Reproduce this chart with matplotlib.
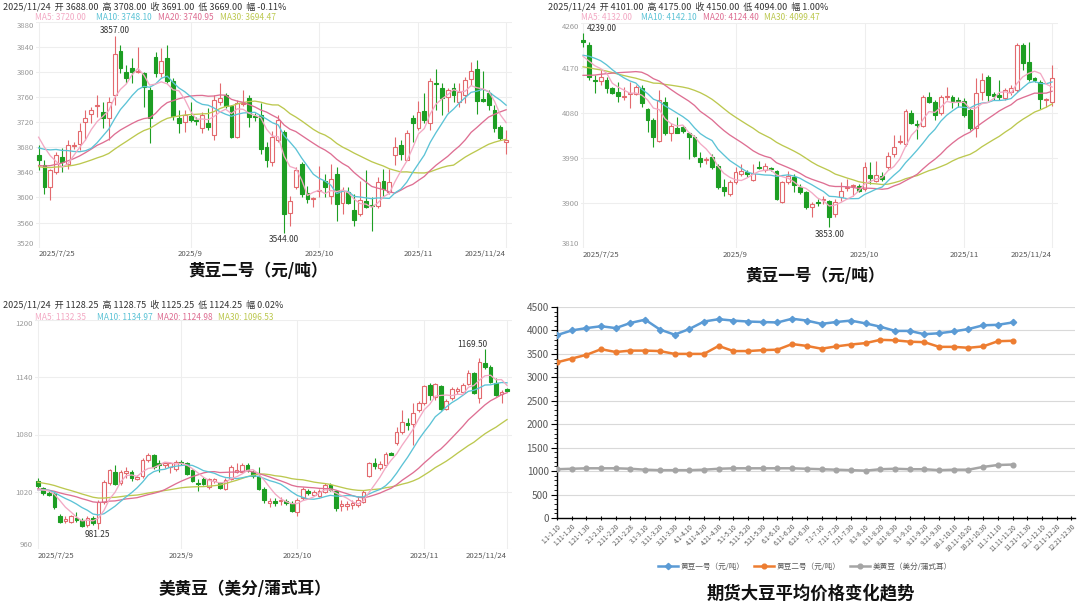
import numpy as np
import pandas as pd
import matplotlib
matplotlib.use('Agg')
import matplotlib.pyplot as plt
from matplotlib.lines import Line2D

plt.rcParams['font.family'] = ['Noto Sans CJK SC', 'DejaVu Sans']

# ---------------- data: 黄豆二号 ----------------
p1_open = [3667,3651,3616,3640,3664,3654,3682,3685,3720,3733,3745,3736,3726,3763,3834,3800,3806,3800,3798,3771,
           3823,3799,3822,3786,3727,3720,3729,3724,3711,3719,3699,3752,3763,3745,3696,3749,3759,3730,3731,3681,
           3656,3691,3704,3576,3616,3654,3607,3597,3610,3627,3603,3638,3592,3608,3580,3573,3594,3588,3587,3627,
           3608,3667,3683,3660,3727,3711,3738,3718,3783,3775,3760,3774,3752,3763,3788,3804,3757,3766,3740,3713,3688]
p1_high = [3683,3659,3645,3672,3679,3691,3688,3718,3739,3744,3763,3752,3760,3857,3843,3811,3822,3840,3800,3776,
           3832,3838,3843,3790,3739,3739,3752,3728,3736,3742,3763,3782,3766,3747,3755,3771,3763,3735,3750,3688,
           3706,3731,3707,3603,3648,3656,3619,3600,3650,3638,3654,3648,3616,3616,3606,3627,3643,3600,3632,3646,
           3646,3696,3691,3707,3731,3754,3766,3790,3804,3782,3774,3783,3782,3792,3816,3819,3802,3772,3747,3715,3708]
p1_low = [3643,3606,3596,3638,3640,3646,3678,3675,3691,3718,3728,3710,3691,3747,3798,3782,3782,3798,3744,3686,
          3792,3792,3782,3723,3702,3704,3720,3716,3703,3707,3692,3748,3742,3695,3695,3746,3712,3722,3670,3649,
          3650,3688,3544,3555,3614,3600,3592,3585,3600,3600,3590,3563,3574,3590,3555,3571,3584,3546,3584,3600,
          3606,3651,3659,3659,3688,3707,3718,3707,3739,3731,3736,3752,3744,3750,3779,3733,3752,3739,3704,3691,3669]
p1_close = [3660,3617,3643,3667,3656,3684,3684,3706,3727,3739,3748,3726,3752,3829,3806,3791,3800,3802,3776,3726,
            3799,3818,3786,3729,3718,3731,3723,3722,3731,3713,3755,3759,3745,3696,3751,3751,3728,3728,3678,3659,
            3696,3723,3574,3595,3643,3606,3598,3599,3612,3616,3630,3590,3611,3591,3564,3596,3585,3586,3624,3614,
            3624,3680,3670,3702,3718,3736,3723,3786,3781,3758,3771,3763,3768,3787,3802,3754,3754,3747,3710,3694,3691]
# closes before 2025/7/25 (estimated from where the MA lines start)
p1_prior = [3652,3648,3640,3644,3650,3646,3642,3638,3645,3645,
            3635,3630,3625,3618,3612,3615,3620,3622,3625,3628,
            3640,3652,3660,3672,3686,3698,3710,3712,3700]

# ---------------- data: 黄豆一号 ----------------
p2_open = [4226,4215,4146,4144,4145,4129,4122,4112,4118,4117,4129,4087,4065,4025,4102,4039,4049,4052,4039,4032,
           3991,3986,3992,3975,3932,3919,3942,3959,3962,3947,3973,3967,3970,3964,3902,3942,3953,3932,3922,3892,
           3903,3906,3905,3879,3912,3931,3934,3935,3929,3957,3945,3955,3972,3999,4023,4019,4080,4058,4053,4112,
           4102,4080,4111,4111,4106,4104,4085,4049,4122,4151,4117,4115,4109,4122,4125,4215,4182,4149,4142,4106,4101]
p2_high = [4239,4222,4155,4165,4152,4132,4142,4132,4142,4135,4135,4089,4069,4125,4112,4059,4072,4056,4042,4035,
           4002,3992,3999,3979,3949,3947,3972,3979,3967,3979,3985,3980,3973,3967,3945,3965,3959,3939,3925,3902,
           3909,3915,3907,3909,3942,3949,3939,3939,3982,3982,3985,3962,4002,4035,4035,4087,4085,4065,4115,4122,
           4105,4115,4132,4115,4112,4109,4089,4149,4159,4155,4122,4145,4129,4135,4220,4219,4222,4152,4145,4109,4175]
p2_low = [4212,4145,4119,4135,4119,4117,4102,4105,4089,4115,4092,4042,4012,4022,4035,4025,4039,4039,3989,3992,
          3972,3979,3969,3929,3915,3915,3939,3955,3952,3945,3968,3962,3965,3907,3900,3939,3922,3919,3889,3872,
          3895,3899,3853,3872,3905,3925,3915,3922,3925,3939,3942,3945,3969,3992,4019,4015,4057,4029,4052,4099,
          4065,4075,4105,4089,4092,4072,4045,4032,4105,4102,4105,4105,4105,4115,4122,4165,4144,4142,4087,4091,4094]
p2_close = [4222,4152,4144,4151,4129,4120,4113,4114,4120,4132,4099,4065,4032,4105,4039,4053,4040,4043,4033,3995,
            3982,3988,3972,3932,3925,3942,3962,3965,3959,3960,3971,3974,3968,3909,3942,3955,3937,3922,3892,3899,
            3901,3908,3872,3902,3925,3933,3936,3925,3972,3951,3957,3949,3995,4013,4025,4084,4060,4056,4112,4102,
            4075,4112,4113,4102,4104,4075,4049,4119,4145,4115,4114,4112,4125,4129,4215,4179,4147,4146,4107,4108,4150]
p2_prior = [4210,4215,4205,4200,4212,4208,4198,4202,4206,4204,
            4150,4135,4120,4105,4098,4095,4100,4108,4115,4124,
            4170,4185,4200,4210,4220,4200,4190,4180,4173]

# ---------------- data: 美黄豆 ----------------
p3_open = [1031,1024,1019,1018,995,989,988,992,990,985,992,987,1009,1029,1041,1029,1040,1041,1033,1036,
           1053,1058,1050,1048,1046,1044,1051,1050,1043,1029,1033,1025,1031,1029,1023,1033,1041,1041,1048,1041,
           1036,1023,1008,1010,1010,1010,1008,999,1013,1021,1017,1016,1020,1027,1021,1005,1005,1006,1006,1009,
           1036,1050,1045,1048,1061,1071,1083,1092,1091,1106,1113,1132,1119,1131,1107,1118,1126,1125,1133,1144,
           1118,1155,1151,1134,1123,1128.25]
p3_high = [1034,1025,1022,1020,997,994,996,999,992,994,995,1011,1032,1044,1048,1043,1046,1043,1037,1055,
           1061,1060,1053,1051,1051,1053,1053,1051,1044,1033,1035,1034,1034,1030,1034,1048,1050,1050,1050,1043,
           1046,1025,1013,1013,1014,1012,1010,1013,1025,1023,1022,1023,1029,1029,1022,1011,1010,1011,1015,1022,
           1051,1055,1052,1062,1062,1088,1106,1097,1113,1115,1132,1134,1134,1132,1117,1130,1130,1134,1148,1146,
           1160,1169.5,1153,1139,1127,1128.75]
p3_low = [1024,1017,1015,1002,987,987,987,988,983,983,985,981.25,1007,1027,1027,1027,1034,1031,1032,1034,
          1051,1044,1041,1045,1040,1042,1048,1037,1030,1021,1027,1023,1029,1023,1022,1032,1040,1040,1041,1034,
          1022,1008,1004,1005,1006,1006,999,994,1011,1017,1015,1014,1019,1021,1000,1000,1001,1002,1004,1008,
          1035,1044,1043,1046,1058,1069,1081,1085,1069,1104,1111,1116,1116,1106,1106,1116,1123,1123,1132,1122,
          1113,1149,1134,1120,1113,1124.25]
p3_close = [1026,1019,1017,1004,988,991,994,990,984,992,987,1009,1030,1043,1028,1041,1042,1034,1035,1053,
            1058,1046,1048,1050,1050,1051,1050,1039,1031,1028,1028,1033,1033,1024,1032,1046,1043,1048,1043,1036,
            1023,1011,1010,1008,1011,1008,1000,1011,1023,1019,1020,1021,1027,1022,1003,1007,1007,1008,1011,1020,
            1050,1047,1049,1060,1059,1083,1093,1090,1103,1113,1131,1121,1133,1107,1115,1128,1128,1132,1145,1124,
            1156,1151,1135,1121,1125,1125.25]
p3_prior = [1050,1048,1046,1045,1044,1043,1042,1041,1041,1040,
            1035,1030,1026,1022,1020,1018,1020,1022,1024,1023,
            1020,1022,1024,1023,1021,1020,1022,1021,1021]

# ---------------- data: 期货大豆平均价格 ----------------
periods = ['1.1-1.10','1.11-1.20','1.21-1.30','2.1-2.10','2.11-2.20','2.21-2.28','3.1-3.10','3.11-3.20',
           '3.21-3.30','4.1-4.10','4.11-4.20','4.21-4.30','5.1-5.10','5.11-5.20','5.21-5.30','6.1-6.10',
           '6.11-6.20','6.21-6.30','7.1-7.10','7.11-7.20','7.21-7.30','8.1-8.10','8.11-8.20','8.21-8.30',
           '9.1-9.10','9.11-9.20','9.21-9.30','10.1-10.10','10.11-10.20','10.21-10.30','11.1-11.10',
           '11.11-11.20','11.21-11.30','12.1-12.10','12.11-12.20','12.21-12.30']
soy1 = [3900,4000,4050,4090,4050,4160,4230,4020,3910,4030,4190,4240,4210,4190,4180,4170,
        4250,4210,4140,4180,4210,4150,4080,3990,3990,3920,3940,3980,4030,4110,4120,4170]
soy2 = [3320,3400,3480,3600,3540,3570,3570,3560,3500,3500,3500,3670,3560,3560,3580,3590,
        3710,3670,3610,3660,3700,3730,3800,3790,3760,3750,3650,3650,3630,3660,3770,3780]
soyus = [1040,1050,1060,1060,1060,1050,1030,1020,1020,1020,1030,1050,1060,1060,1060,1060,
         1060,1050,1040,1030,1020,1010,1040,1050,1040,1040,1020,1030,1030,1090,1130,1140]

headers = [
    '2025/11/24  开 3688.00  高 3708.00  收 3691.00  低 3669.00  幅 -0.11%',
    '2025/11/24  开 4101.00  高 4175.00  收 4150.00  低 4094.00  幅 1.00%',
    '2025/11/24  开 1128.25  高 1128.75  收 1125.25  低 1124.25  幅 0.02%',
]
ma_texts = [
    ['MA5: 3720.00', 'MA10: 3748.10', 'MA20: 3740.95', 'MA30: 3694.47'],
    ['MA5: 4132.00', 'MA10: 4142.10', 'MA20: 4124.40', 'MA30: 4099.47'],
    ['MA5: 1132.35', 'MA10: 1134.97', 'MA20: 1124.98', 'MA30: 1096.53'],
]
titles = ['黄豆二号（元/吨）', '黄豆一号（元/吨）', '美黄豆（美分/蒲式耳）', '期货大豆平均价格变化趋势']

# trading calendars
cn_days = [d for d in pd.bdate_range('2025-07-25', '2025-11-24')
           if not (pd.Timestamp('2025-10-01') <= d <= pd.Timestamp('2025-10-08'))]
us_days = [d for d in pd.bdate_range('2025-07-25', '2025-11-24') if d != pd.Timestamp('2025-09-01')]

# ---------------- styling ----------------
W, H = 1080, 608
fig = plt.figure(figsize=(W / 100, H / 100), dpi=100)
fig.patch.set_facecolor('white')

def rect(l, t, r, b):
    return [l / W, 1 - b / H, (r - l) / W, (b - t) / H]

UP = '#e36a6e'
DN = '#1d9e23'
MA_COL = {5: '#f3a9c4', 10: '#5cc3d6', 20: '#de6f93', 30: '#bcc84f'}
GRID = '#eeeeee'

def candle_panel(box, days, o, h, l, c, prior, yticks, xl, annot):
    ax = fig.add_axes(rect(*box))
    o, h, l, c = map(lambda a: np.array(a, float), (o, h, l, c))
    n = len(c)
    x = np.arange(n)
    ax.set_xlim(xl)
    ax.set_ylim(yticks[0], yticks[-1])
    for s in ax.spines.values():
        s.set_visible(False)
    for yv in yticks:
        ax.axhline(yv, color=GRID, lw=0.8, zorder=0)
    months = [d.month for d in days]
    xt = [0] + [i for i in range(1, n) if months[i] != months[i - 1] and months[i] >= 9] + [n - 1]
    xlab = ['%d/%d/%d' % (days[0].year, days[0].month, days[0].day)] + \
           ['%d/%d' % (days[i].year, days[i].month) for i in xt[1:-1]] + \
           ['%d/%d/%d' % (days[-1].year, days[-1].month, days[-1].day)]
    for xv in xt:
        ax.axvline(xv, color=GRID, lw=0.8, zorder=0)
    ax.set_xticks(xt)
    ax.set_xticklabels(xlab, fontsize=5.6, color='#555555')
    labs = ax.get_xticklabels()
    labs[0].set_ha('left')
    labs[-1].set_ha('right')
    ax.set_yticks(yticks)
    ax.set_yticklabels([str(v) for v in yticks], fontsize=5.6, color='#9a9a9a')
    ylabs = ax.get_yticklabels()
    ylabs[-1].set_va('top')
    ylabs[0].set_va('bottom')
    ax.tick_params(length=0, pad=1.5)
    ax.tick_params(axis='x', pad=2)
    up = c >= o
    cols = np.where(up, UP, DN)
    ax.vlines(x, l, h, colors=cols, lw=0.8, zorder=2)
    bottom = np.minimum(o, c)
    height = np.maximum(np.abs(c - o), (yticks[-1] - yticks[0]) * 0.002)
    ax.bar(x[up], height[up], bottom=bottom[up], width=0.66, facecolor='white',
           edgecolor=UP, lw=0.8, zorder=3)
    ax.bar(x[~up], height[~up], bottom=bottom[~up], width=0.66, facecolor=DN,
           edgecolor=DN, lw=0.8, zorder=3)
    full = pd.Series(list(prior) + list(c))
    for m in (30, 20, 10, 5):
        ma = full.rolling(m).mean().values[len(prior):]
        ax.plot(x, ma, color=MA_COL[m], lw=0.95, zorder=4)
    ih, il = int(np.argmax(h)), int(np.argmin(l))
    hs, ls = annot
    ax.annotate('%.2f' % h[ih], (ih, h[ih]), xytext=hs[0], textcoords='offset points',
                ha=hs[1], va='bottom', fontsize=6, color='#333333', zorder=6)
    ax.annotate('%.2f' % l[il], (il, l[il]), xytext=ls[0], textcoords='offset points',
                ha=ls[1], va='top', fontsize=6, color='#333333', zorder=6)
    return ax

candle_panel((36, 21.7, 512, 247.7), cn_days, p1_open, p1_high, p1_low, p1_close, p1_prior,
             list(range(3520, 3881, 40)), (-0.45, 81.0),
             (((0, 1), 'center'), ((0, -2), 'center')))
candle_panel((581, 22.7, 1058, 248.3), cn_days, p2_open, p2_high, p2_low, p2_close, p2_prior,
             list(range(3810, 4261, 90)), (-0.35, 81.0),
             (((3, 0), 'left'), ((0, -2), 'center')))
candle_panel((35, 320.1, 512, 548.9), us_days, p3_open, p3_high, p3_low, p3_close, p3_prior,
             list(range(960, 1201, 60)), (-0.5, 85.9),
             (((2, 0), 'right'), ((-1, -1), 'center')))

for (hx, hy, mx, my), htxt, mtxt in zip(
        [(3, 7, [35, 96, 158, 220], 17), (548, 7, [581, 641, 703, 764], 17),
         (3, 305, [35, 97, 157, 218], 317)], headers, ma_texts):
    fig.text(hx / W, 1 - hy / H, htxt, fontsize=6.5, color='#333333', va='center', ha='left')
    for xx, t, m in zip(mx, mtxt, (5, 10, 20, 30)):
        fig.text(xx / W, 1 - my / H, t, fontsize=6, color=MA_COL[m], va='center', ha='left')

for (tx, ty), t, fs in zip([(258, 271), (815, 276), (245, 589), (811, 593)], titles, [12, 12, 12, 12.5]):
    fig.text(tx / W, 1 - ty / H, t, fontsize=fs, fontweight='bold', color='#111111',
             ha='center', va='center')

# ---------------- panel 4: line chart ----------------
ax4 = fig.add_axes(rect(557, 307, 1075, 518))
xi = np.arange(len(soy1))
C1, C2, C3 = '#5b9bd5', '#ed7d31', '#a5a5a5'
ax4.plot(xi, soy1, color=C1, lw=1.8, marker='D', ms=3.2, zorder=3)
ax4.plot(xi, soy2, color=C2, lw=1.8, marker='o', ms=3.4, zorder=3)
ax4.plot(xi, soyus, color=C3, lw=1.8, marker='o', ms=3.4, zorder=3)
ax4.set_xlim(0, 35.25)
ax4.set_ylim(0, 4500)
ax4.set_yticks(range(0, 4501, 500))
ax4.set_yticks(range(0, 4501, 100), minor=True)
ax4.yaxis.grid(True, color='#d9d9d9', lw=0.8)
ax4.set_axisbelow(True)
for s in ('top', 'right'):
    ax4.spines[s].set_visible(False)
for s in ('left', 'bottom'):
    ax4.spines[s].set_color('black')
    ax4.spines[s].set_linewidth(1.0)
ax4.set_xticks(range(len(periods)))
ax4.set_xticklabels(periods, rotation=45, ha='right', rotation_mode='anchor',
                    fontsize=4.6, color='#595959')
ax4.tick_params(axis='y', labelsize=7.2, labelcolor='#595959', length=4, width=0.8, pad=2)
ax4.tick_params(axis='y', which='minor', length=2, width=0.6)
ax4.tick_params(axis='x', length=3, width=0.8, direction='inout', pad=2)

handles = [Line2D([], [], color=C1, lw=1.8, marker='D', ms=3.2),
           Line2D([], [], color=C2, lw=1.8, marker='o', ms=3.4),
           Line2D([], [], color=C3, lw=1.8, marker='o', ms=3.4)]
fig.legend(handles, ['黄豆一号（元/吨）', '黄豆二号（元/吨）', '美黄豆（美分/蒲式耳）'],
           loc='center', bbox_to_anchor=(805 / W, 1 - 567 / H), ncol=3, frameon=False,
           fontsize=5.5, handlelength=2.6, columnspacing=1.2, handletextpad=0.4,
           labelcolor='#595959')

fig.savefig('out.png', dpi=100, facecolor='white')
